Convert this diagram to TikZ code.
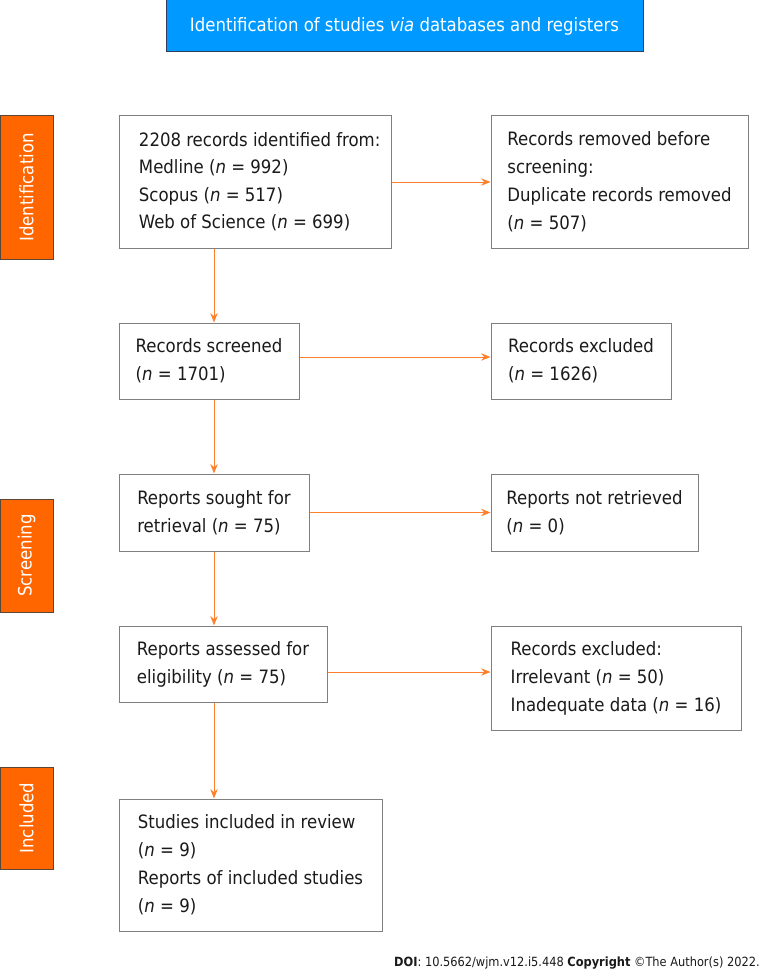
\documentclass[tikz,border=0pt]{standalone}
\usepackage{fontspec}
\setmainfont{DejaVu Sans Condensed}
\usetikzlibrary{arrows.meta}
\definecolor{prismablue}{HTML}{0099FF}
\definecolor{prismanavy}{HTML}{2F3E5C}
\definecolor{prismaorange}{HTML}{FF6600}
\definecolor{prismaedge}{HTML}{5A4634}
\definecolor{prismaflow}{HTML}{FF7F2A}
\definecolor{prismagray}{HTML}{7F7F7F}
\definecolor{prismaink}{HTML}{1A1A1A}

\begin{document}
\begin{tikzpicture}[
  x=0.75pt,y=-0.75pt,
  >={Stealth[length=7pt,width=5.5pt]},
  record/.style={draw=prismagray,line width=.75pt,align=left,inner sep=0pt,
    font=\fontsize{13.8}{21}\selectfont,text=prismaink},
  phase/.style={draw=prismaedge,fill=prismaorange,line width=.75pt,rotate=90,
    minimum height=39.75pt,inner sep=0pt,text=white,
    font=\fontsize{13.8}{21}\selectfont},
  flow/.style={->,prismaflow,line width=.75pt}
]
  \useasboundingbox (0,0) rectangle (763,977);

  % banner and phases
  \node[draw=prismanavy,fill=prismablue,line width=.75pt,text=white,
    minimum width=357.75pt,minimum height=39pt,
    font=\fontsize{13.8}{21}\selectfont] (banner) at (404.5,26)
    {Identification of studies \emph{via} databases and registers};
  \node[phase,minimum width=107.25pt] (idphase) at (26.5,187.5) {Identification};
  \node[phase,minimum width=84.75pt] (scphase) at (26.5,555.5) {Screening};
  \node[phase,minimum width=76.5pt] (inphase) at (26.5,818) {Included};

  % main column
  \node[record,minimum width=204pt,minimum height=99pt] (found) at (255,182)
    {\hspace*{7pt}\begin{tabular}{@{}l@{}}2208 records identified from:\\[-.5pt]
     Medline (\textit{n} = 992)\\[-.5pt]Scopus (\textit{n} = 517)\\[-.5pt]
     Web of Science (\textit{n} = 699)\end{tabular}};
  \node[record,minimum width=135pt,minimum height=57pt] (screened) at (209,361)
    {Records screened\\(\textit{n} = 1701)};
  \node[record,minimum width=142.5pt,minimum height=57.75pt] (sought) at (214,512.5)
    {Reports sought for\\retrieval (\textit{n} = 75)};
  \node[record,minimum width=156pt,minimum height=57pt] (assessed) at (223,664)
    {Reports assessed for\\eligibility (\textit{n} = 75)};
  \node[record,minimum width=197.25pt,minimum height=99pt] (included) at (250.5,865)
    {Studies included in review\\(\textit{n} = 9)\\
     Reports of included studies\\(\textit{n} = 9)};

  % side column
  \node[record,minimum width=192.75pt,minimum height=99pt] (removed) at (619.5,182)
    {Records removed before\\screening:\\Duplicate records removed\\(\textit{n} = 507)};
  \node[record,minimum width=135pt,minimum height=57pt] (excluded) at (581,361)
    {Records excluded\\(\textit{n} = 1626)};
  \node[record,minimum width=155.25pt,minimum height=57.75pt] (notret) at (594.5,512.5)
    {Reports not retrieved\\(\textit{n} = 0)};
  \node[record,minimum width=187.5pt,minimum height=78pt] (reasons) at (616,678)
    {Records excluded:\\Irrelevant (\textit{n} = 50)\\
     Inadequate data (\textit{n} = 16)};

  % arrows
  \coordinate (spine) at (214,0);
  \draw[flow] (found.south -| spine) -- (screened.north -| spine);
  \draw[flow] (screened.south -| spine) -- (sought.north -| spine);
  \draw[flow] (sought.south -| spine) -- (assessed.north -| spine);
  \draw[flow] (assessed.south -| spine) -- (included.north -| spine);
  \draw[flow] (found) -- (removed);
  \draw[flow] ([yshift=3pt]screened.east) -- ([yshift=3pt]screened.east -| excluded.west);
  \draw[flow] (sought) -- (notret);
  \draw[flow] ([yshift=-6pt]assessed.east) -- ([yshift=-6pt]assessed.east -| reasons.west);

  \node[anchor=base east,inner sep=0pt,text=prismaink,
    font=\fontsize{9.5}{12}\selectfont] (doi) at (760,966)
    {\textbf{DOI}: 10.5662/wjm.v12.i5.448 \textbf{Copyright} \textcopyright The Author(s) 2022.};
\end{tikzpicture}
\end{document}
